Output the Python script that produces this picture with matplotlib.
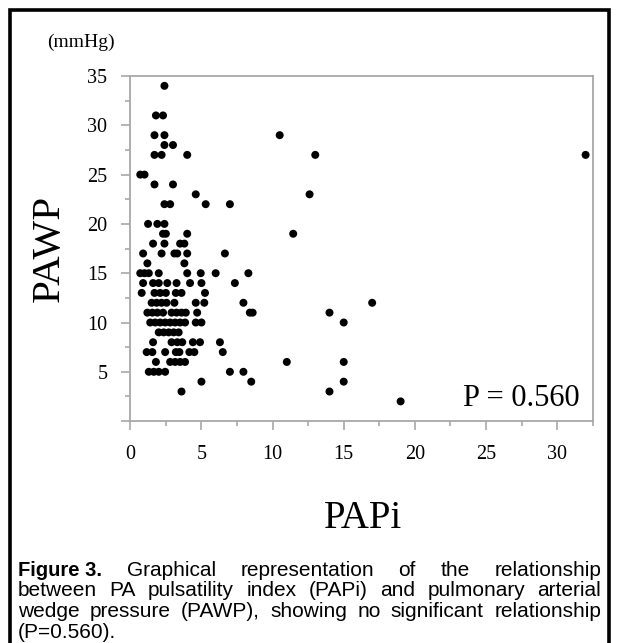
import matplotlib
matplotlib.use('Agg')
import matplotlib.pyplot as plt
from matplotlib.patches import Rectangle
from matplotlib.ticker import MultipleLocator, FuncFormatter

# ---------------- data ----------------
papi = [2.4,
        1.8, 2.3,
        1.7, 2.4, 10.5,
        2.4, 3.0,
        1.7, 2.2, 4.0, 13.0, 32.0,
        0.7, 1.0,
        1.7, 3.0,
        4.6, 12.6,
        2.4, 2.8, 5.3, 7.0,
        1.25, 1.9, 2.4,
        2.3, 2.5, 4.0, 11.45,
        1.6, 2.4, 3.5, 3.8,
        0.9, 2.2, 3.1, 3.3, 4.0, 6.65,
        1.2, 3.8,
        0.7, 1.0, 1.3, 2.0, 4.0, 4.95, 6.0, 8.3,
        0.9, 1.6, 2.0, 2.6, 3.25, 4.2, 5.0, 7.35,
        0.8, 1.7, 2.1, 2.5, 3.2, 3.6, 5.25,
        1.5, 1.85, 2.2, 2.55, 3.1, 4.6, 5.2, 7.95, 17.0,
        1.2, 1.55, 1.9, 2.3, 2.9, 3.25, 3.6, 3.9, 4.7, 8.4, 8.6, 14.0,
        1.4, 1.75, 2.1, 2.45, 2.8, 3.15, 3.5, 3.85, 4.6, 5.0, 15.0,
        2.0, 2.35, 2.7, 3.05, 3.4,
        1.6, 2.9, 3.3, 3.65, 4.4, 4.9, 6.3,
        1.15, 1.55, 2.45, 3.2, 3.45, 4.15, 4.5, 6.5,
        1.8, 2.8, 3.15, 3.5, 3.85, 11.0, 15.0,
        1.3, 1.65, 2.0, 2.45, 7.0, 7.95,
        5.0, 8.5, 15.0,
        3.6, 14.0,
        19.0]
pawp = [34,
        31, 31,
        29, 29, 29,
        28, 28,
        27, 27, 27, 27, 27,
        25, 25,
        24, 24,
        23, 23,
        22, 22, 22, 22,
        20, 20, 20,
        19, 19, 19, 19,
        18, 18, 18, 18,
        17, 17, 17, 17, 17, 17,
        16, 16,
        15, 15, 15, 15, 15, 15, 15, 15,
        14, 14, 14, 14, 14, 14, 14, 14,
        13, 13, 13, 13, 13, 13, 13,
        12, 12, 12, 12, 12, 12, 12, 12, 12,
        11, 11, 11, 11, 11, 11, 11, 11, 11, 11, 11, 11,
        10, 10, 10, 10, 10, 10, 10, 10, 10, 10, 10,
        9, 9, 9, 9, 9,
        8, 8, 8, 8, 8, 8, 8,
        7, 7, 7, 7, 7, 7, 7, 7,
        6, 6, 6, 6, 6, 6, 6,
        5, 5, 5, 5, 5, 5,
        4, 4, 4,
        3, 3,
        2]

x_ticks = [0, 5, 10, 15, 20, 25, 30]
y_ticks = [0, 5, 10, 15, 20, 25, 30, 35]
x_label = "PAPi"
y_label = "PAWP"
y_unit = "(mmHg)"
p_text = "P = 0.560"
caption_bold = "Figure 3."
caption_lines = [
    "Graphical representation of the relationship",
    "between PA pulsatility index (PAPi) and pulmonary arterial",
    "wedge pressure (PAWP), showing no significant relationship",
    "(P=0.560).",
]

# ---------------- figure ----------------
W, H = 619, 643
fig = plt.figure(figsize=(W / 100, H / 100), dpi=100)
fig.patch.set_facecolor('white')

SERIF = ['Liberation Serif', 'DejaVu Serif']
SANS = ['Liberation Sans', 'DejaVu Sans']
GRAY = '#a8a8a8'

# outer frame of the figure
fig.patches.append(Rectangle((10 / W, -0.05), 599 / W, 1.05 - 10 / H,
                             transform=fig.transFigure, fill=False,
                             edgecolor='black', linewidth=2.6))

ax = fig.add_axes([130.3 / W, 1 - 421.1 / H, 462.4 / W, 345.1 / H])
ax.scatter(papi, pawp, s=33, c='black', edgecolors='none', zorder=3,
           clip_on=False)
ax.set_xlim(0, 32.5)
ax.set_ylim(0, 35)
ax.set_xticks(x_ticks)
ax.set_yticks(y_ticks)
ax.xaxis.set_minor_locator(MultipleLocator(2.5))
ax.yaxis.set_minor_locator(MultipleLocator(2.5))
ax.yaxis.set_major_formatter(FuncFormatter(lambda v, p: '' if v == 0 else f'{v:g}'))
for s in ax.spines.values():
    s.set_color(GRAY)
    s.set_linewidth(1.3)
ax.tick_params(which='major', direction='out', length=6.5, width=1.2,
               color=GRAY, labelsize=14.5, labelcolor='black')
ax.tick_params(which='minor', direction='out', length=3.5, width=1.2,
               color=GRAY)
ax.tick_params(axis='y', which='major', pad=10)
ax.tick_params(axis='x', which='major', pad=11)
for lab in ax.get_xticklabels() + ax.get_yticklabels():
    lab.set_family(SERIF)

fig.text(47 / W, 1 - 42 / H, y_unit, family=SERIF, fontsize=14,
         ha='left', va='center')
fig.text(49 / W, 1 - 248 / H, y_label, family=SERIF, fontsize=29.5,
         rotation=90, ha='center', va='center')
fig.text(363 / W, 1 - 518 / H, x_label, family=SERIF, fontsize=28,
         ha='center', va='center')
fig.text(580 / W, 1 - 398 / H, p_text, family=SERIF, fontsize=22,
         ha='right', va='center')

# ---------------- justified caption ----------------
renderer = fig.canvas.get_renderer()
CAP_SIZE = 15
x0, x1 = 18, 601
baselines = [576, 596.5, 617, 637.5]


def place(items, ybase, justify):
    texts = []
    for s, kw in items:
        t = fig.text(0, 1 - ybase / H, s, ha='left', va='baseline', **kw)
        texts.append(t)
    widths = [t.get_window_extent(renderer).width for t in texts]
    if justify and len(texts) > 1:
        gap = (x1 - x0 - sum(widths)) / (len(texts) - 1)
    else:
        gap = CAP_SIZE * 0.28
    x = x0
    for t, w in zip(texts, widths):
        t.set_x(x / W)
        x += w + gap


plain = dict(family=SANS, fontsize=CAP_SIZE)
bold = dict(family=SANS, fontsize=14.5, fontweight='bold')
for i, line in enumerate(caption_lines):
    items = [(w, plain) for w in line.split()]
    if i == 0:
        items = [(caption_bold, bold)] + items
    place(items, baselines[i], justify=(i < len(caption_lines) - 1))

fig.savefig('out.png', dpi=100, facecolor='white')
